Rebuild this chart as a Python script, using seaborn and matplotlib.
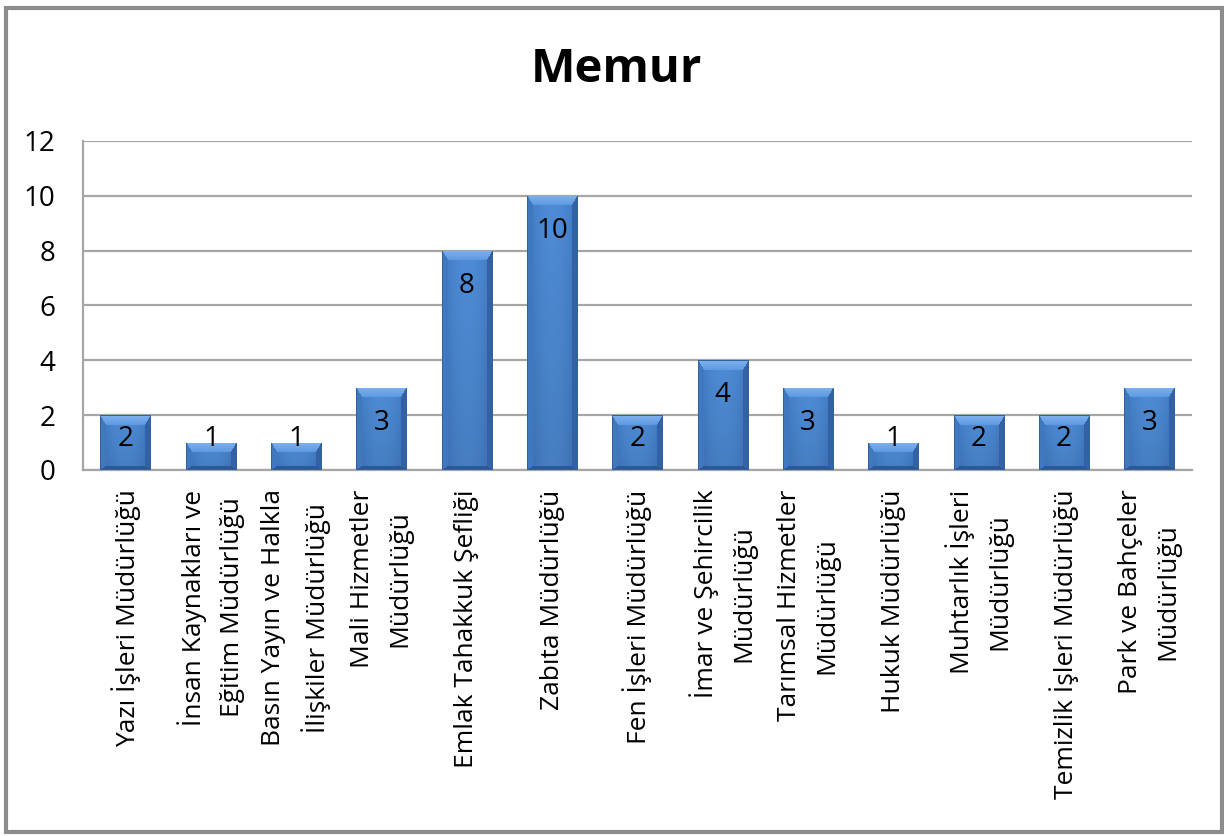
import numpy as np
import pandas as pd
import matplotlib
matplotlib.use("Agg")
import matplotlib.pyplot as plt
import seaborn as sns
from matplotlib.patches import Rectangle

# -------------------------------
# Data
# -------------------------------
departments = [
    "Yazı İşleri Müdürlüğü",
    "İnsan Kaynakları ve\nEğitim Müdürlüğü",
    "Basın Yayın ve Halkla\nİlişkiler Müdürlüğü",
    "Mali Hizmetler\nMüdürlüğü",
    "Emlak Tahakkuk Şefliği",
    "Zabıta Müdürlüğü",
    "Fen İşleri Müdürlüğü",
    "İmar ve Şehircilik\nMüdürlüğü",
    "Tarımsal Hizmetler\nMüdürlüğü",
    "Hukuk Müdürlüğü",
    "Muhtarlık İşleri\nMüdürlüğü",
    "Temizlik İşleri Müdürlüğü",
    "Park ve Bahçeler\nMüdürlüğü",
]
memur_counts = [2, 1, 1, 3, 8, 10, 2, 4, 3, 1, 2, 2, 3]
y_ticks = [0, 2, 4, 6, 8, 10, 12]
chart_title = "Memur"

df = pd.DataFrame({"department": departments, "count": memur_counts})

sns.set_style("white")
plt.rcParams["font.family"] = ["Open Sans", "DejaVu Sans"]
plt.rcParams["text.color"] = "black"
plt.rcParams["xtick.color"] = "black"
plt.rcParams["ytick.color"] = "black"

W, H = 1224, 836
fig = plt.figure(figsize=(W / 100, H / 100), dpi=100)
ax = fig.add_axes([83 / W, 1 - 470 / H, (1192 - 83) / W, (470 - 141) / H])

sns.barplot(
    data=df,
    x="department",
    y="count",
    color="#4A86D0",
    saturation=1,
    width=0.59,
    ax=ax,
    zorder=3,
)

ax.set_ylim(0, 12)
ax.set_xlim(-0.5, len(departments) - 0.5)
ax.set_yticks(y_ticks)
ax.set_xlabel("")
ax.set_ylabel("")

ax.yaxis.grid(True, color="#A6A6A6", linewidth=1.6)
ax.set_axisbelow(True)
for side in ["top", "right"]:
    ax.spines[side].set_visible(False)
for side in ["left", "bottom"]:
    ax.spines[side].set_color("#A6A6A6")
    ax.spines[side].set_linewidth(1.6)

ax.tick_params(axis="y", length=0, pad=20, labelsize=20)
ax.tick_params(axis="x", length=0, pad=14)
ax.set_xticks(range(len(departments)))
ax.set_xticklabels(
    departments,
    rotation=90,
    ha="center",
    va="top",
    multialignment="center",
    fontsize=19,
    linespacing=1.65,
)

# value labels inside bars
for i, v in enumerate(memur_counts):
    ax.text(i, max(v - 1.28, 1.13), str(v), ha="center", va="center",
            fontsize=20, color="black", zorder=6)

# title
fig.text(616 / W, 1 - 70 / H, chart_title, ha="center", va="center",
         fontsize=34, fontweight="bold", color="black")

# outer chart border
fig.add_artist(Rectangle((6 / W, 4 / H), (1222 - 6) / W, 824 / H,
                         transform=fig.transFigure, fill=False,
                         edgecolor="#8C8C8C", linewidth=3))


# -------------------------------
# Beveled gradient look for the bars
# -------------------------------
def bar_image(w, h):
    r = np.arange(h)[:, None] * np.ones((1, w))
    c = np.ones((h, 1)) * np.arange(w)[None, :]
    xs = np.linspace(0, 1, w)
    t = (np.abs(xs - 0.5) * 2) ** 2
    center = np.array([78, 140, 214]) / 255
    edge = np.array([62, 118, 190]) / 255
    row = center * (1 - t[:, None]) + edge * t[:, None]
    img = np.tile(row, (h, 1, 1))
    ys = np.linspace(0, 1, h)[:, None, None]
    img = img * (1 - 0.10 * ys)

    top_b = min(10, h / 2.5)
    side_b = 6
    d = np.stack([r / top_b, c / side_b, (w - 1 - c) / side_b, (h - 1 - r) / 4])
    nearest = d.argmin(axis=0)
    dmin = d.min(axis=0)
    inside = dmin < 1
    # top bevel: light, fading toward body
    m = inside & (nearest == 0)
    frac = (r / top_b)[m][:, None]
    light = np.array([126, 176, 238]) / 255
    img[m] = light * (1 - frac) + (np.array([92, 152, 224]) / 255) * frac
    m = inside & (nearest == 1)
    img[m] = np.array([64, 120, 192]) / 255
    m = inside & (nearest == 2)
    img[m] = np.array([50, 98, 164]) / 255
    m = inside & (nearest == 3)
    img[m] = np.array([44, 88, 150]) / 255
    outline = (r < 1) | (c < 1) | (c > w - 2) | (r > h - 2)
    img[outline] = np.array([50, 96, 160]) / 255
    return np.clip(img, 0, 1)


fig.canvas.draw()
renderer = fig.canvas.get_renderer()
for p in list(ax.patches):
    bb = p.get_window_extent(renderer)
    wpx = max(int(round(bb.width)), 2)
    hpx = max(int(round(bb.height)), 2)
    img = bar_image(wpx, hpx)
    x0 = p.get_x()
    im = ax.imshow(img, extent=(x0, x0 + p.get_width(), p.get_y(), p.get_y() + p.get_height()),
                   aspect="auto", origin="upper", zorder=3.5, interpolation="nearest")
    im.set_clip_path(p)
    p.set_facecolor("none")
    p.set_edgecolor("none")

ax.set_ylim(0, 12)
ax.set_xlim(-0.5, len(departments) - 0.5)

fig.savefig("out.png", dpi=100)
